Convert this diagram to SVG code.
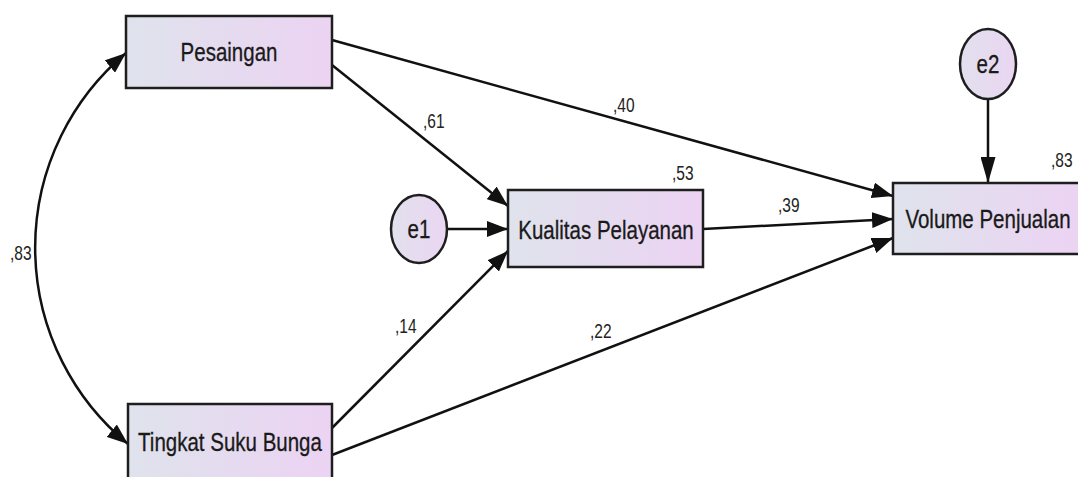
<svg xmlns="http://www.w3.org/2000/svg" width="1078" height="477" viewBox="0 0 1078 477">
<defs>
<linearGradient id="boxFill" x1="0" y1="0" x2="1" y2="0">
<stop offset="0" stop-color="#dfe3ec"/>
<stop offset="1" stop-color="#ecd3f3"/>
</linearGradient>
<linearGradient id="ellFill" x1="0" y1="0" x2="1" y2="0">
<stop offset="0" stop-color="#e2e0ee"/>
<stop offset="1" stop-color="#ead6f1"/>
</linearGradient>
<marker id="arrow" viewBox="0 0 21 16" refX="21" refY="8" markerWidth="21" markerHeight="16" markerUnits="userSpaceOnUse" orient="auto-start-reverse">
<path d="M0,0 L21,8 L0,16 Z" fill="#111"/>
</marker>
<marker id="arrowV" viewBox="0 0 26 15" refX="26" refY="7.5" markerWidth="26" markerHeight="15" markerUnits="userSpaceOnUse" orient="auto">
<path d="M0,0 L26,7.5 L0,15 Z" fill="#111"/>
</marker>
</defs>
<style>
.box{fill:url(#boxFill);stroke:#1e1e1e;stroke-width:2.5}
.ell{fill:url(#ellFill);stroke:#1e1e1e;stroke-width:2.5}
.edge{fill:none;stroke:#111;stroke-width:2.5;marker-end:url(#arrow)}
.lbl{font-family:"Liberation Sans",Arial,sans-serif;font-size:20.5px;fill:#1a1a1a;text-anchor:middle;stroke:#1a1a1a;stroke-width:0.25}
.num{font-family:"Liberation Sans",Arial,sans-serif;font-size:15.5px;fill:#222}
</style>
<rect width="1078" height="477" fill="#ffffff"/>
<g id="connectors">
<path class="edge" d="M126,53 A254,254 0 0 0 128,444" style="marker-start:url(#arrow)"/>
<line class="edge" x1="332" y1="40" x2="893" y2="196"/>
<line class="edge" x1="332" y1="65" x2="508" y2="206"/>
<line class="edge" x1="447" y1="229" x2="508" y2="229"/>
<line class="edge" x1="332" y1="428" x2="508" y2="251"/>
<line class="edge" x1="703" y1="229" x2="893" y2="219"/>
<line class="edge" x1="332" y1="455" x2="893" y2="238"/>
<line x1="988" y1="99" x2="988" y2="183" stroke="#111" stroke-width="2.5" marker-end="url(#arrowV)"/>
<text class="num" transform="translate(10,260) scale(1,1.3)">,83</text>
<text class="num" transform="translate(423,128) scale(1,1.3)">,61</text>
<text class="num" transform="translate(613,112) scale(1,1.3)">,40</text>
<text class="num" transform="translate(778,212) scale(1,1.3)">,39</text>
<text class="num" transform="translate(395,333) scale(1,1.3)">,14</text>
<text class="num" transform="translate(590,338) scale(1,1.3)">,22</text>
</g>
<g id="node-pesaingan">
<rect class="box" x="126" y="16" width="206" height="72"/>
<text class="lbl" transform="translate(229,61) scale(1,1.3)">Pesaingan</text>
</g>
<g id="node-tingkat">
<rect class="box" x="128" y="404" width="204" height="76"/>
<text class="lbl" transform="translate(230,451) scale(1,1.3)">Tingkat Suku Bunga</text>
</g>
<g id="node-kualitas">
<rect class="box" x="508" y="190" width="195" height="77"/>
<text class="lbl" transform="translate(606,239) scale(1,1.3)">Kualitas Pelayanan</text>
<text class="num" transform="translate(672,180) scale(1,1.3)">,53</text>
</g>
<g id="node-volume">
<rect class="box" x="893" y="183" width="190" height="71"/>
<text class="lbl" transform="translate(988,228) scale(1,1.3)">Volume Penjualan</text>
<text class="num" transform="translate(1051,167) scale(1,1.3)">,83</text>
</g>
<g id="node-e1">
<ellipse class="ell" cx="419" cy="229" rx="28" ry="34"/>
<text class="lbl" transform="translate(419,238) scale(1,1.3)">e1</text>
</g>
<g id="node-e2">
<ellipse class="ell" cx="988" cy="64" rx="28" ry="35"/>
<text class="lbl" transform="translate(988,73) scale(1,1.3)">e2</text>
</g>
</svg>
